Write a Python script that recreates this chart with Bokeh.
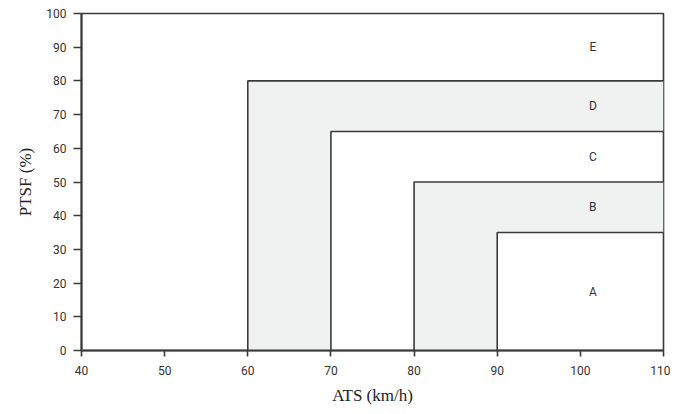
from bokeh.plotting import figure
from bokeh.models import Range1d, SingleIntervalTicker
from bokeh.embed import file_html
from bokeh.resources import INLINE
from bokeh.core.properties import value

# Level-of-service boundaries (two-lane highway)
los_labels = ["A", "B", "C", "D", "E"]
ats_limits = [90, 80, 70, 60]      # km/h, minimum ATS for A..D
ptsf_limits = [35, 50, 65, 80]     # %, maximum PTSF for A..D
x_min, x_max = 40, 110
y_min, y_max = 0, 100
shaded_levels = ["B", "D"]

FONT = "Roboto"

p = figure(width=670, height=398, output_backend="svg", toolbar_location=None,
           x_range=Range1d(x_min, x_max), y_range=Range1d(y_min, y_max),
           min_border_left=81, min_border_right=7, min_border_top=13, min_border_bottom=48)
p.frame_width = 582
p.frame_height = 337

# shaded bands
for lvl in shaded_levels:
    i = los_labels.index(lvl)
    a_out, p_out = ats_limits[i], ptsf_limits[i]
    a_in, p_in = (ats_limits[i - 1], ptsf_limits[i - 1]) if i > 0 else (x_max, y_min)
    xs = [a_out, a_out, x_max, x_max, a_in, a_in]
    ys = [y_min, p_out, p_out, p_in, p_in, y_min]
    p.patch(xs, ys, fill_color="#f0f1f1", line_color=None)

# boundary lines
for a, t in zip(ats_limits, ptsf_limits):
    p.line([a, a, x_max], [y_min, t, t], line_color="#3a3a3a", line_width=1.6)

# labels
bounds = [y_min] + ptsf_limits + [y_max]
lab_y = [(bounds[k] + bounds[k + 1]) / 2 for k in range(len(los_labels))]
lab_x = [101.5] * len(los_labels)
p.text(lab_x, lab_y, text=los_labels, text_align="center", text_baseline="middle",
       text_font=value(FONT), text_font_size="12px", text_color="#333333")

p.grid.visible = False
p.outline_line_color = "#3a3a3a"
p.outline_line_width = 1.6
p.background_fill_color = "white"

for ax in (p.xaxis[0], p.yaxis[0]):
    ax.ticker = SingleIntervalTicker(interval=10)
    ax.minor_tick_line_color = None
    ax.major_tick_in = 0
    ax.axis_line_width = 2
    ax.axis_line_color = "#3a3a3a"
    ax.major_tick_line_color = "#3a3a3a"
    ax.major_tick_line_width = 1.6
    ax.major_label_text_font = FONT
    ax.major_label_text_font_size = "12px"
    ax.major_label_text_color = "#333333"
    ax.axis_label_text_font = "Liberation Serif"
    ax.axis_label_text_font_size = "17px"
    ax.axis_label_text_font_style = "normal"
    ax.axis_label_text_color = "#222222"

p.xaxis.major_tick_out = 6
p.yaxis.major_tick_out = 8
p.xaxis.axis_label = "ATS (km/h)"
p.yaxis.axis_label = "PTSF (%)"
p.xaxis.major_label_standoff = 9
p.yaxis.major_label_standoff = 7
p.xaxis.axis_label_standoff = 8
p.yaxis.axis_label_standoff = 8

open("out.html", "w").write(file_html(p, INLINE))
